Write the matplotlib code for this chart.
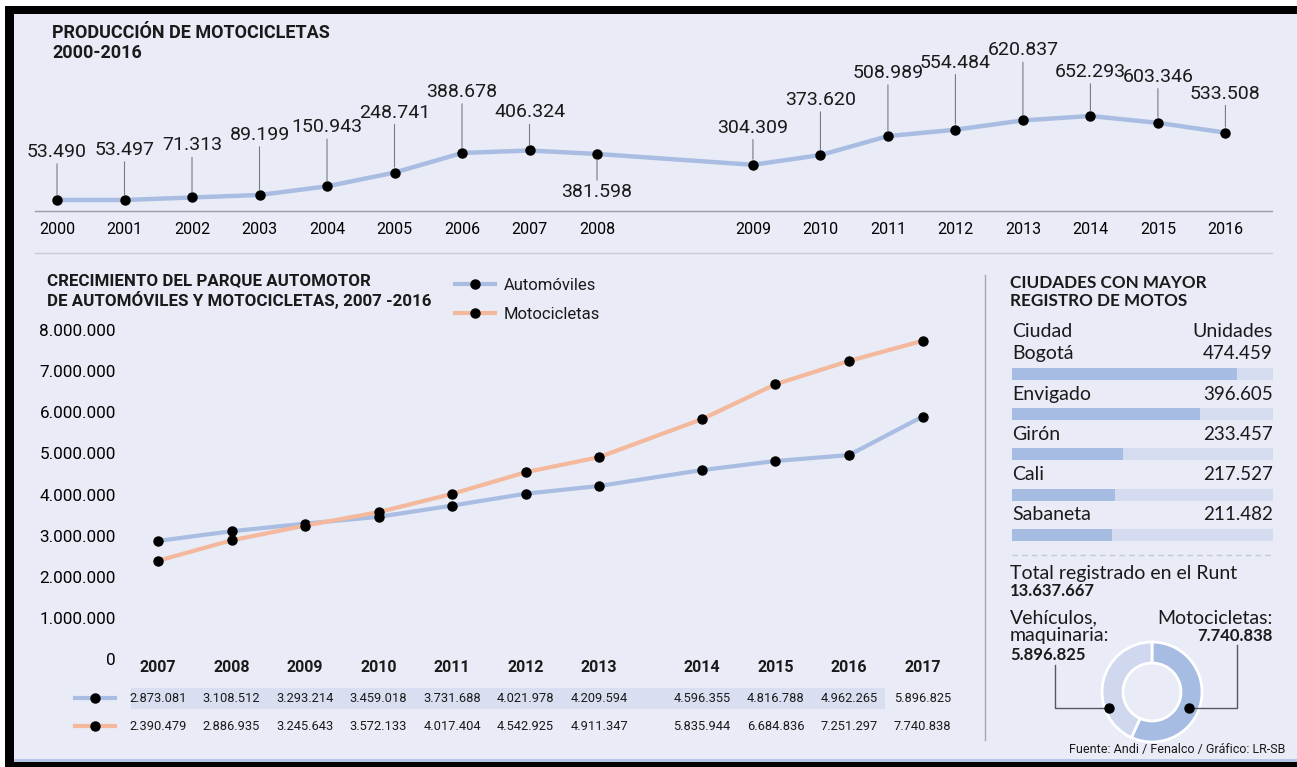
import numpy as np
import matplotlib.pyplot as plt
from matplotlib.lines import Line2D
from matplotlib.patches import Rectangle
from matplotlib.ticker import FuncFormatter
from matplotlib.transforms import blended_transform_factory

# Producción anual de motocicletas
prod_years = [2000, 2001, 2002, 2003, 2004, 2005, 2006, 2007, 2008,
              2009, 2010, 2011, 2012, 2013, 2014, 2015, 2016]
prod_units = [53490, 53497, 71313, 89199, 150943, 248741, 388678, 406324, 381598,
              304309, 373620, 508989, 554484, 620837, 652293, 603346, 533508]

# Parque automotor (automóviles y motocicletas)
park_years = [2007, 2008, 2009, 2010, 2011, 2012, 2013, 2014, 2015, 2016, 2017]
autos = [2873081, 3108512, 3293214, 3459018, 3731688, 4021978, 4209594,
         4596355, 4816788, 4962265, 5896825]
motos = [2390479, 2886935, 3245643, 3572133, 4017404, 4542925, 4911347,
         5835944, 6684836, 7251297, 7740838]

# Ciudades con mayor registro de motos
cities = ['Bogotá', 'Envigado', 'Girón', 'Cali', 'Sabaneta']
city_units = [474459, 396605, 233457, 217527, 211482]

# Total Runt
runt_total = 13637667
runt_vehicles = 5896825
runt_motos = 7740838

W, H = 1297, 767
BG = '#E9EBF6'
BLUE = '#A9BDE2'
ORANGE = '#F4B89C'
INK = '#1a1a1a'
NARROW = ['Roboto', 'DejaVu Sans']
WIDE = ['Lato', 'DejaVu Sans']

plt.rcParams['font.family'] = NARROW
plt.rcParams['text.color'] = INK


def box(x0, y0, x1, y1):
    return [x0 / W, 1 - y1 / H, (x1 - x0) / W, (y1 - y0) / H]


def fx(px):
    return px / W


def fy(py):
    return 1 - py / H


def fmt(v):
    return f"{int(v):,}".replace(",", ".")


fig = plt.figure(figsize=(W / 100, H / 100), dpi=100, facecolor=BG)

# marco
fig.add_artist(Rectangle((0, fy(6)), 1, 6 / H, transform=fig.transFigure, color='white', lw=0))
fig.add_artist(Rectangle((0, fy(14)), 1, 8 / H, transform=fig.transFigure, color='black', lw=0))
fig.add_artist(Rectangle((0, 0), 5 / W, 1, transform=fig.transFigure, color='white', lw=0))
fig.add_artist(Rectangle((5 / W, 0), 9 / W, fy(6), transform=fig.transFigure, color='black', lw=0))
fig.add_artist(Rectangle((14 / W, fy(762)), 1, 3 / H, transform=fig.transFigure, color='#B8C7E8', lw=0))
fig.add_artist(Rectangle((5 / W, 0), 1, fy(762), transform=fig.transFigure, color='black', lw=0))

# ---------------- producción de motocicletas ----------------
fig.text(fx(52), fy(33), 'PRODUCCIÓN DE MOTOCICLETAS', fontsize=13, fontweight='bold', va='center')
fig.text(fx(52), fy(53), '2000-2016', fontsize=13, fontweight='bold', va='center')

ax1 = fig.add_axes(box(35, 40, 1272, 211))
yrs = np.array(prod_years)
x_prod = np.arange(len(yrs)) + np.where(yrs >= 2009, 1.31, 0.0)
ax1.plot(x_prod, prod_units, color=BLUE, lw=3.2, solid_capstyle='round', zorder=2)
ax1.plot(x_prod, prod_units, 'o', color='black', ms=6.5, zorder=3)
ax1.set_xlim(-0.326, 18.0)
ax1.set_ylim(-25000, 1194000)

label_offsets = [48, 50, 52, 60, 59, 60, 61, 38, -38, 37, 55, 63, 67, 70, 44, 46, 39]
for x, v, off in zip(x_prod, prod_units, label_offsets):
    ax1.annotate(fmt(v), xy=(x, v), xytext=(0, off), textcoords='offset pixels',
                 ha='center', va='center', fontsize=14,
                 arrowprops=dict(arrowstyle='-', color='#777a84', lw=0.8,
                                 shrinkA=0, shrinkB=4))

ax1.set_xticks(x_prod)
ax1.set_xticklabels([str(y) for y in prod_years], fontsize=11.5)
ax1.tick_params(axis='x', length=0, pad=8)
ax1.set_yticks([])
for s in ['top', 'left', 'right']:
    ax1.spines[s].set_visible(False)
ax1.spines['bottom'].set_color('#9b9ea8')
ax1.spines['bottom'].set_linewidth(1)
ax1.patch.set_visible(False)

fig.add_artist(Line2D([fx(35), fx(1272)], [fy(253), fy(253)], color='#c9ccd8', lw=1))

# ---------------- parque automotor ----------------
fig.text(fx(47), fy(281), 'CRECIMIENTO DEL PARQUE AUTOMOTOR', fontsize=12.2, fontweight='bold', va='center')
fig.text(fx(47), fy(300), 'DE AUTOMÓVILES Y MOTOCICLETAS, 2007 -2016', fontsize=12.2, fontweight='bold', va='center')

ax2 = fig.add_axes(box(120, 320, 960, 662))
pyrs = np.array(park_years)
x_park = np.arange(len(pyrs)) + np.where(pyrs >= 2014, 0.4, 0.0)
l_auto, = ax2.plot(x_park, autos, color=BLUE, lw=3, marker='o', ms=6.5,
                   mfc='black', mec='black', label='Automóviles', zorder=2)
l_moto, = ax2.plot(x_park, motos, color=ORANGE, lw=3, marker='o', ms=6.5,
                   mfc='black', mec='black', label='Motocicletas', zorder=3)
ax2.set_xlim(-0.517, 10.91)
ax2.set_ylim(-73000, 8248000)
ax2.set_yticks(np.arange(0, 8000001, 1000000))
ax2.yaxis.set_major_formatter(FuncFormatter(lambda v, p: fmt(v)))
ax2.tick_params(axis='y', length=0, pad=3, labelsize=12.3)
ax2.set_xticks([])
for s in ax2.spines.values():
    s.set_visible(False)
ax2.patch.set_visible(False)

ax2.legend(handles=[l_auto, l_moto], loc='upper left',
           bbox_to_anchor=(fx(455), fy(278)), bbox_transform=fig.transFigure,
           frameon=False, fontsize=12, handlelength=2.4, handletextpad=0.5,
           labelspacing=0.85, borderpad=0, borderaxespad=0)

# tabla de valores
trans = blended_transform_factory(ax2.transData, fig.transFigure)
fig.add_artist(Rectangle((x_park[0] - 0.37, fy(709)), (x_park[-2] + 0.49) - (x_park[0] - 0.37),
                         fy(688) - fy(709), transform=trans, color='#D9DFF1', lw=0, zorder=-1))
for x, yr, a, m in zip(x_park, park_years, autos, motos):
    ax2.text(x, fy(668), str(yr), transform=trans, ha='center', va='center',
             fontsize=11.5, fontweight='bold')
    ax2.text(x, fy(698), fmt(a), transform=trans, ha='center', va='center', fontsize=9.3)
    ax2.text(x, fy(726), fmt(m), transform=trans, ha='center', va='center', fontsize=9.3)

for py, c in [(698, BLUE), (726, ORANGE)]:
    fig.add_artist(Line2D([fx(75), fx(95), fx(115)], [fy(py)] * 3, color=c, lw=3,
                          marker='o', ms=6.5, mfc='black', mec='black', markevery=[1]))

# ---------------- ciudades ----------------
fig.add_artist(Line2D([fx(985), fx(985)], [fy(275), fy(740)], color='#a3a6b0', lw=1))
fig.text(fx(1010), fy(283), 'CIUDADES CON MAYOR', fontsize=12.3, fontweight='bold',
         va='center', family=WIDE)
fig.text(fx(1010), fy(301), 'REGISTRO DE MOTOS', fontsize=12.3, fontweight='bold',
         va='center', family=WIDE)

SCALE_MAX = 550000
ax3 = fig.add_axes(box(1012, 343.8, 1273, 555))
rows = np.arange(len(cities))
ax3.barh(rows, [SCALE_MAX] * len(cities), height=0.3, color='#D6DCF0', lw=0)
ax3.barh(rows, city_units, height=0.3, color='#A6BCE3', lw=0)
ax3.set_xlim(0, SCALE_MAX)
ax3.set_ylim(4.5, -0.75)
ax3.axis('off')
ax3.text(0, -1.05, 'Ciudad', ha='left', va='center', fontsize=14, family=WIDE, clip_on=False)
ax3.text(SCALE_MAX, -1.05, 'Unidades', ha='right', va='center', fontsize=14, family=WIDE, clip_on=False)
for i, (c, u) in enumerate(zip(cities, city_units)):
    ax3.text(0, i - 0.5, c, ha='left', va='center', fontsize=14, family=WIDE)
    ax3.text(SCALE_MAX, i - 0.5, fmt(u), ha='right', va='center', fontsize=13.5, family=WIDE)
ax3.axhline(4.5, color='#c5c9d6', lw=1, ls=(0, (4, 3)), clip_on=False)

fig.text(fx(1010), fy(573), 'Total registrado en el Runt', fontsize=14, va='center', family=WIDE)
fig.text(fx(1010), fy(591), fmt(runt_total), fontsize=12, fontweight='bold', va='center', family=WIDE)
fig.text(fx(1010), fy(618), 'Vehículos,', fontsize=14, va='center', family=WIDE)
fig.text(fx(1010), fy(636), 'maquinaria:', fontsize=14, va='center', family=WIDE)
fig.text(fx(1010), fy(655), fmt(runt_vehicles), fontsize=12, fontweight='bold', va='center', family=WIDE)
fig.text(fx(1273), fy(618), 'Motocicletas:', fontsize=14, va='center', ha='right', family=WIDE)
fig.text(fx(1273), fy(636), fmt(runt_motos), fontsize=12, fontweight='bold', va='center', ha='right', family=WIDE)

# dona Runt
ax4 = fig.add_axes(box(1097, 637, 1207, 747))
ax4.pie([runt_motos, runt_vehicles], colors=['#A6BCE3', '#CFD8EF'], startangle=90,
        counterclock=False, radius=1,
        wedgeprops=dict(width=0.42, edgecolor='white', linewidth=2))
ax4.set_xlim(-1.1, 1.1)
ax4.set_ylim(-1.1, 1.1)
ax4.set_aspect('equal')
ax4.plot([-0.86, -1.94, -1.94], [-0.32, -0.32, 0.54], color='#555860', lw=1, clip_on=False)
ax4.plot([0.74, 1.70, 1.70], [-0.32, -0.32, 0.94], color='#555860', lw=1, clip_on=False)
ax4.plot([-0.86, 0.74], [-0.32, -0.32], 'o', color='black', ms=6.5, clip_on=False)

fig.text(fx(1285), fy(750), 'Fuente: Andi / Fenalco / Gráfico: LR-SB', fontsize=9,
         ha='right', va='center')

fig.savefig('out.png', dpi=100, facecolor=BG)
